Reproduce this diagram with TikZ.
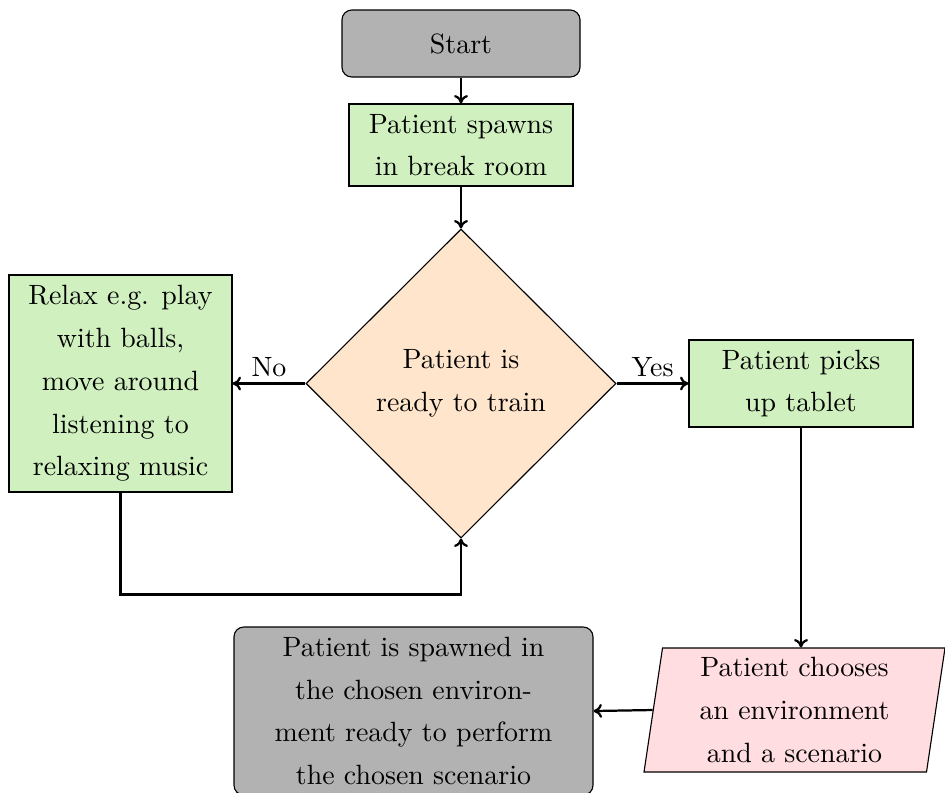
\documentclass[tikz,border=0pt]{standalone}
\usetikzlibrary{shapes.geometric,arrows.meta}
\newcommand{\pxl}{0.3585pt}
\definecolor{boxgreen}{RGB}{208,240,192}
\definecolor{boxpeach}{RGB}{255,229,204}
\definecolor{boxpink}{RGB}{255,221,225}
\begin{document}
\begin{tikzpicture}[x=0.3585pt,y=-0.3585pt,
  every node/.style={font=\fontsize{10}{15.3}\selectfont, align=center, inner sep=0pt},
  terminal/.style={draw, fill=gray!60, rounded corners=3.5pt},
  process/.style={draw, fill=boxgreen},
  decision/.style={draw, diamond, fill=boxpeach, aspect=1},
  inout/.style={draw, trapezium, trapezium left angle=80, trapezium right angle=100,
    trapezium stretches body=true, fill=boxpink},
  flow/.style={thick, -{To[length=3pt,width=5pt]}}]
\useasboundingbox (0,0) rectangle (945,792);
\node[terminal, minimum width=238*\pxl, minimum height=67*\pxl] (start) at (461,43.5) {Start};
\node[process, minimum width=224*\pxl, minimum height=82*\pxl] (spawn) at (461,145) {Patient spawns\\in break room};
\node[decision, minimum width=310*\pxl, minimum height=309*\pxl] (ready) at (461,383.5) {Patient is\\ready to train};
\node[process, minimum width=223*\pxl, minimum height=217*\pxl] (relax) at (120.5,383.5) {Relax e.g. play\\with balls,\\move around\\listening to\\relaxing music};
\node[process, minimum width=224*\pxl, minimum height=87*\pxl] (tablet) at (801,383.5) {Patient picks\\up tablet};
\node[inout, minimum width=301*\pxl, minimum height=124*\pxl] (choose) at (794.5,710) {Patient chooses\\an environment\\and a scenario};
\node[terminal, minimum width=359*\pxl, minimum height=168*\pxl] (final) at (413.5,711) {Patient is spawned in\\the chosen environ-\\ment ready to perform\\the chosen scenario};
\draw[flow] (start) -- (spawn);
\draw[flow] (spawn) -- (ready);
\draw[flow] (ready.west) -- node[above=2pt] {No} (relax.east);
\draw[flow] (ready.east) -- node[above=2pt] {Yes} (tablet.west);
\draw[flow] (tablet.south) -- (tablet.south |- choose.north);
\draw[flow] (choose.west) -- (final.east);
\draw[flow] (relax.south) -- ++(0,102) -| (ready.south);
\end{tikzpicture}
\end{document}
